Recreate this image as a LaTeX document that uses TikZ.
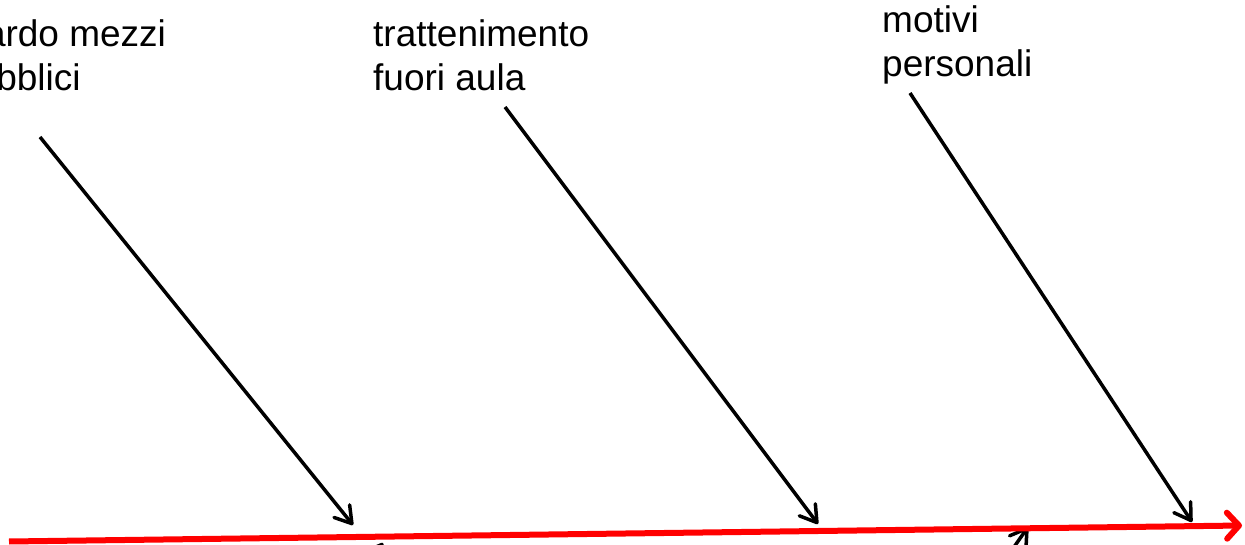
\documentclass[tikz,border=0pt]{standalone}
\usepackage{fontspec}
\setmainfont{Liberation Sans}
\usetikzlibrary{arrows.meta}
\begin{document}
\begin{tikzpicture}[x=1pt,y=-1pt,
  lbl/.style={anchor=base west,inner sep=0pt,font=\fontsize{37}{44}\selectfont},
  bone/.style={line width=3.5pt,-{Straight Barb[length=16pt,width=20pt,round]}},
  spine/.style={line width=6pt,red,-{Straight Barb[length=12pt,width=26pt,round]}}]
\useasboundingbox (0,0) rectangle (1245,545);
\clip (0,0) rectangle (1245,545);
% labels
\node[lbl] (l1a) at (-46,47) {ritardo mezzi};
\node[lbl] (l1b) at (-45,91) {pubblici};
\node[lbl] (l2a) at (373,47) {trattenimento};
\node[lbl] (l2b) at (373,91) {fuori aula};
\node[lbl] (l3a) at (882,33) {motivi};
\node[lbl] (l3b) at (882,77) {personali};
% coordinates
\coordinate (s0) at (9,541.5);
\coordinate (s1) at (1242,525.5);
\coordinate (a1s) at (40,137);
\coordinate (a1e) at (353,525);
\coordinate (a2s) at (505,107);
\coordinate (a2e) at (818,524);
\coordinate (a3s) at (910,93);
\coordinate (a3e) at (1192,522);
\coordinate (b1s) at (278,693);
\coordinate (b1e) at (383,543);
\coordinate (b2s) at (923,677);
\coordinate (b2e) at (1028,527);
% bones
\draw[bone] (a1s) -- (a1e);
\draw[bone] (a2s) -- (a2e);
\draw[bone] (a3s) -- (a3e);
\draw[bone] (b1s) -- (b1e);
\draw[bone] (b2s) -- (b2e);
% spine
\draw[spine] (s0) -- (s1);
\end{tikzpicture}
\end{document}
